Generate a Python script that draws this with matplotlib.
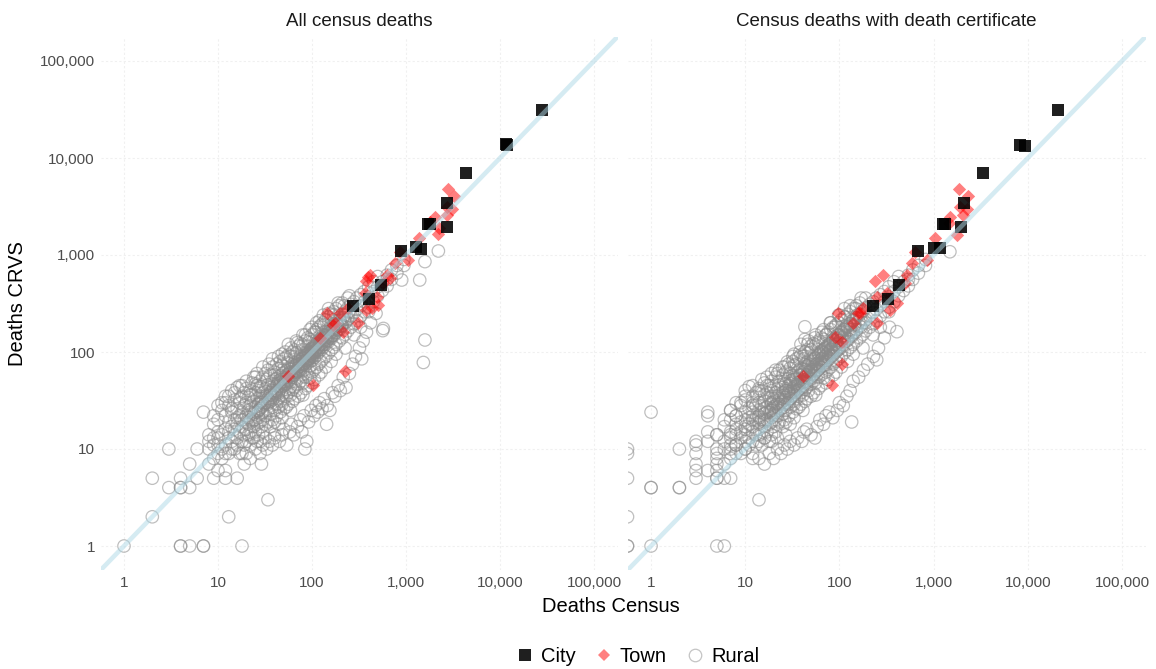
import numpy as np
import matplotlib
matplotlib.use("Agg")
import matplotlib.pyplot as plt
from matplotlib.lines import Line2D
from matplotlib.ticker import FixedLocator, FuncFormatter, NullLocator

plt.rcParams['font.family'] = ['Liberation Sans', 'DejaVu Sans']

# ---------------- data ----------------
panel_titles = ["All census deaths", "Census deaths with death certificate"]
tick_values = [1, 10, 100, 1000, 10000, 100000]
legend_labels = ["City", "Town", "Rural"]

# Cities (census, crvs)
city_all = [(27800, 31000), (11500, 14000), (12000, 13500), (4320, 7050), (2710, 3460),
            (1730, 2070), (1800, 2100), (2710, 1950), (877, 1107), (1290, 1218),
            (1440, 1150), (538, 490), (400, 356), (275, 300)]
city_cert = [(20800, 31000), (8260, 13600), (9340, 13300), (3320, 7050), (2100, 3460),
             (1270, 2070), (1330, 2100), (1950, 1950), (689, 1107), (1000, 1170),
             (1170, 1170), (433, 490), (331, 356), (229, 300)]

# Towns (census, crvs)
town_all = [(2780, 4760), (3240, 4060), (2710, 3100), (3080, 2960), (2030, 2480), (2710, 2580),
            (2260, 1880), (2210, 1650), (1800, 2200), (1380, 1490), (1060, 890), (863, 1080),
            (764, 820), (622, 620), (414, 620), (380, 543), (398, 597), (676, 575), (575, 510),
            (366, 403), (488, 371), (508, 305), (431, 282), (143, 251), (199, 251), (176, 198),
            (243, 282), (215, 162), (122, 138), (224, 63), (56, 56), (103, 46), (310, 198),
            (380, 270), (169, 190)]
town_cert = [(1875, 4760), (2340, 4060), (1910, 3100), (2240, 2960), (1490, 2480), (2070, 2580),
             (1760, 1600), (1470, 2120), (1035, 1490), (845, 890), (633, 1080), (585, 820),
             (239, 543), (292, 620), (518, 620), (497, 510), (249, 371), (405, 317), (97, 251),
             (159, 251), (141, 198), (180, 282), (318, 403), (90, 144), (106, 128), (106, 76),
             (41, 56), (83, 46), (249, 198), (166, 251), (344, 270)]

# Rural: isolated points (census, crvs)
rural_all_points = [(1, 1), (4, 1), (4, 1), (5, 1), (7, 1), (7, 1), (18, 1), (2, 2), (13, 2), (34, 3),
                    (3, 4), (4, 4), (4, 4), (5, 4), (2, 5), (4, 5), (6, 5), (9, 5), (12, 5), (16, 5),
                    (10, 6), (12, 6), (5, 7), (19, 7), (29, 7), (3, 10), (6, 10), (84, 10),
                    (7, 24), (12, 35), (16, 43), (25, 47), (143, 18), (230, 43), (1590, 133),
                    (1530, 78), (565, 166), (338, 85), (1400, 552), (1590, 855), (2210, 1100),
                    (900, 552), (575, 175)]
rural_cert_points = [(0, 1), (0, 1), (1, 1), (5, 1), (6, 1), (0, 2), (14, 3), (1, 4), (1, 4), (2, 4),
                     (2, 4), (0, 5), (3, 5), (5, 5), (5, 5), (6, 5), (7, 5), (3, 6), (4, 6), (3, 7),
                     (5, 7), (12, 8), (0, 10), (0, 9), (2, 10), (5, 9), (3, 9), (3, 11), (3, 12),
                     (4, 12), (4, 15), (5, 14), (8, 11), (8, 14), (8, 18), (1, 24), (4, 24), (4, 22),
                     (135, 19), (43, 182), (43, 135), (249, 83), (408, 162), (1490, 1080)]

# Rural: spread of the cloud away from the diagonal (census, crvs)
rural_all_spread = [
    (20, 9), (22, 8), (25, 10), (28, 9), (30, 11), (33, 10), (35, 12), (38, 11), (40, 13), (45, 12),
    (48, 14), (50, 16), (54, 11), (58, 15), (60, 18), (64, 14), (70, 17), (75, 20), (78, 15), (82, 22),
    (88, 12), (92, 19), (98, 25), (105, 22), (110, 28), (115, 24), (120, 30), (128, 26), (135, 33),
    (145, 28), (155, 25), (165, 38), (175, 35), (190, 45), (200, 40), (215, 55), (250, 60), (270, 75),
    (290, 90), (320, 110), (350, 130), (380, 160), (420, 200), (480, 250),
    (9, 22), (10, 28), (11, 30), (13, 35), (14, 26), (15, 38), (17, 33), (18, 45), (20, 50), (22, 36),
    (24, 55), (26, 60), (28, 44), (30, 70), (33, 52), (35, 75), (38, 85), (40, 58), (44, 90), (48, 65),
    (52, 100), (55, 78), (60, 110), (66, 90), (70, 125), (78, 105), (85, 150), (92, 125), (100, 180),
    (110, 160), (120, 210), (135, 190), (150, 250), (170, 240), (190, 320), (220, 300), (250, 380),
    (30, 30), (35, 32), (40, 38), (45, 45), (50, 48), (55, 55), (60, 57), (65, 63), (70, 68), (75, 72),
    (80, 80), (85, 82), (90, 88), (95, 92), (100, 100), (110, 105), (120, 118), (130, 125), (140, 140),
    (150, 145), (160, 160), (170, 165), (180, 178), (200, 195), (220, 215), (36, 36), (42, 40), (47, 49),
    (52, 50), (57, 60), (63, 61), (67, 70), (73, 75), (78, 77), (83, 86), (88, 90), (93, 97), (98, 96),
    (104, 108), (115, 112), (126, 130), (145, 150), (165, 170), (185, 190),
]
rural_cert_spread = [
    (14, 8), (16, 7), (18, 9), (20, 8), (22, 10), (24, 9), (26, 11), (28, 10), (30, 12), (33, 11),
    (36, 13), (40, 12), (42, 15), (45, 16), (50, 14), (55, 13), (58, 17), (62, 20), (68, 18), (72, 22),
    (78, 24), (85, 21), (95, 25), (100, 30), (110, 28), (120, 35), (130, 40), (140, 50), (160, 55),
    (180, 65), (200, 75), (230, 90), (260, 110), (300, 140), (340, 180),
    (6, 20), (7, 25), (8, 22), (9, 30), (10, 35), (11, 44), (12, 28), (14, 40), (15, 52), (17, 45),
    (19, 60), (21, 65), (23, 50), (25, 70), (28, 79), (30, 60), (32, 90), (35, 75), (38, 100), (42, 85),
    (46, 120), (50, 105), (55, 140), (60, 125), (65, 160), (72, 150), (80, 200), (90, 180), (100, 240),
    (115, 230), (130, 300), (150, 280), (170, 360),
    (20, 22), (24, 26), (28, 30), (32, 35), (36, 40), (40, 45), (45, 48), (50, 55), (55, 60), (60, 66),
    (66, 72), (72, 78), (78, 85), (85, 92), (92, 100), (100, 108), (110, 118), (120, 130), (135, 145),
    (150, 160), (170, 180), (190, 200), (22, 27), (26, 29), (30, 33), (34, 38), (38, 42), (43, 50),
    (48, 52), (53, 58), (58, 64), (63, 70), (70, 74), (75, 82), (82, 90), (88, 96), (96, 104),
    (105, 112), (125, 135), (140, 152),
]

# Rural: dense core of the cloud (census, crvs)
rural_all_core = [
    (27, 25), (31, 29), (33, 36), (37, 34), (39, 42), (41, 37), (43, 47), (47, 44), (49, 53), (51, 46),
    (54, 58), (57, 52), (61, 66), (63, 58), (67, 62), (69, 75), (71, 64), (74, 80), (77, 70), (79, 86),
    (83, 76), (87, 94), (89, 81), (91, 100), (94, 86), (97, 105), (101, 92), (103, 112), (108, 98),
    (113, 122), (117, 106), (121, 131), (124, 112), (129, 139), (134, 121), (138, 148), (143, 130),
    (148, 158), (155, 140), (158, 170), (163, 148), (168, 180), (176, 158), (183, 195), (188, 170),
    (196, 210), (205, 185), (212, 225), (230, 205), (245, 260),
    (29, 33), (34, 30), (38, 40), (44, 39), (46, 52), (52, 48), (58, 62), (61, 55), (66, 72), (73, 66),
    (75, 84), (81, 74), (86, 92), (93, 84), (99, 108), (102, 90), (109, 116), (116, 104), (123, 135),
    (131, 118), (137, 150), (146, 132), (152, 165), (162, 145), (172, 188), (185, 168), (198, 215),
    (208, 190), (220, 240), (240, 220),
]
rural_cert_core = [
    (19, 25), (22, 29), (23, 36), (26, 34), (27, 42), (29, 37), (30, 47), (33, 44), (34, 53), (36, 46),
    (38, 58), (40, 52), (43, 66), (44, 58), (47, 62), (48, 75), (50, 64), (52, 80), (54, 70), (55, 86),
    (58, 76), (61, 94), (62, 81), (64, 100), (66, 86), (68, 105), (71, 92), (72, 112), (76, 98),
    (79, 122), (82, 106), (85, 131), (87, 112), (90, 139), (94, 121), (97, 148), (100, 130),
    (104, 158), (109, 140), (111, 170), (114, 148), (118, 180), (123, 158), (128, 195), (132, 170),
    (137, 210), (144, 185), (148, 225), (161, 205), (172, 260),
    (20, 33), (24, 30), (27, 40), (31, 39), (32, 52), (36, 48), (41, 62), (43, 55), (46, 72), (51, 66),
    (53, 84), (57, 74), (60, 92), (65, 84), (69, 108), (71, 90), (76, 116), (81, 104), (86, 135),
    (92, 118), (96, 150), (102, 132), (106, 165), (113, 145), (120, 188), (130, 168), (139, 215),
    (146, 190), (154, 240), (168, 220),
]

# Rural: main cloud, rows of (census, [crvs ...])
rural_all_rows = [
    (8, [10, 12, 14, 7]), (9, [8, 13, 18, 11]), (10, [9, 11, 15, 20, 13]), (11, [10, 14, 25, 8]),
    (12, [11, 16, 22, 30, 9]), (13, [9, 13, 19, 28, 15]), (14, [12, 17, 24, 40, 10]),
    (15, [10, 14, 20, 32, 16]), (16, [13, 18, 26, 11, 21]), (17, [15, 22, 30, 45, 9]),
    (18, [12, 17, 24, 35, 9, 20]), (19, [14, 20, 28, 38, 11]), (20, [16, 22, 30, 12, 42, 19]),
    (21, [18, 25, 34, 14, 21]), (22, [15, 20, 28, 40, 11, 24]), (23, [19, 26, 36, 48, 13]),
    (24, [17, 23, 31, 13, 20]), (25, [20, 27, 38, 55, 15, 24]), (26, [18, 24, 33, 45, 12]),
    (27, [21, 29, 40, 14, 25]), (28, [19, 26, 35, 50, 12, 30]), (29, [23, 31, 44, 17, 27]),
    (30, [20, 28, 38, 55, 15, 24]), (32, [22, 30, 42, 60, 18, 13, 35]), (34, [25, 33, 46, 19, 65, 29]),
    (36, [23, 31, 43, 58, 17, 38]), (38, [27, 36, 50, 70, 20, 32]), (40, [25, 34, 47, 62, 19, 14, 40]),
    (42, [29, 39, 53, 75, 22, 45]), (44, [27, 37, 50, 68, 18, 33]), (46, [31, 42, 57, 80, 24, 48]),
    (48, [29, 40, 55, 73, 21, 95, 36]), (50, [33, 45, 61, 85, 26, 52]), (53, [35, 47, 64, 88, 27, 41]),
    (56, [38, 50, 68, 93, 29, 120, 58]), (59, [36, 49, 66, 90, 25, 44]), (62, [41, 55, 74, 100, 31, 63]),
    (65, [43, 58, 78, 105, 33, 50]), (68, [40, 54, 72, 98, 130, 62]), (72, [47, 63, 84, 115, 35, 70]),
    (76, [50, 66, 90, 122, 38, 58]), (80, [48, 64, 86, 118, 36, 150, 75]), (85, [55, 73, 97, 130, 42, 66]),
    (90, [58, 77, 103, 140, 45, 85]), (95, [54, 72, 98, 135, 170, 80]), (100, [62, 82, 110, 150, 48, 95]),
    (106, [66, 88, 118, 160, 52, 100]), (112, [70, 93, 125, 170, 200, 108]),
    (118, [75, 100, 133, 180, 58, 115]), (125, [80, 105, 140, 190, 62, 120]),
    (132, [85, 112, 150, 200, 240]), (140, [90, 120, 160, 215, 70, 135]), (150, [98, 128, 170, 230, 280]),
    (160, [105, 138, 182, 245, 80]), (170, [112, 148, 195, 260]), (180, [120, 158, 210, 280, 95]),
    (195, [130, 170, 225, 300]), (210, [140, 185, 245, 320]), (225, [152, 200, 265, 110]),
    (240, [165, 215, 285, 360]), (260, [180, 235, 310]), (280, [195, 255, 330, 150]),
    (300, [210, 275, 360]), (330, [235, 300, 390, 180]), (360, [260, 330, 420]),
    (400, [290, 370, 470, 260]), (450, [330, 420, 530]), (500, [380, 470, 600]), (560, [430, 530]),
    (630, [480, 620, 560]), (700, [560, 700]), (800, [650, 780]), (950, [780, 900]),
]
rural_cert_rows = [
    (5, [8, 10, 14, 6]), (6, [7, 12, 17, 10]), (7, [9, 11, 15, 20, 13]), (7, [10, 14, 25, 8]),
    (8, [11, 16, 22, 30, 9]), (9, [9, 13, 19, 28, 15]), (10, [12, 17, 24, 40, 10]),
    (10, [10, 14, 20, 32, 16]), (11, [13, 18, 26, 11, 21]), (12, [15, 22, 30, 45, 9]),
    (12, [12, 17, 24, 35, 20]), (13, [14, 20, 28, 38, 11]), (14, [16, 22, 30, 12, 42, 19]),
    (14, [18, 25, 34, 14, 21]), (15, [15, 20, 28, 40, 11, 24]), (16, [19, 26, 36, 48, 13]),
    (16, [17, 23, 31, 13, 20]), (17, [20, 27, 38, 55, 15, 24]), (18, [18, 24, 33, 45, 12]),
    (19, [21, 29, 40, 14, 25]), (19, [19, 26, 35, 50, 12, 30]), (20, [23, 31, 44, 17, 27]),
    (21, [20, 28, 38, 55, 15, 24]), (22, [22, 30, 42, 60, 18, 13, 35]), (23, [25, 33, 46, 19, 65, 29]),
    (25, [23, 31, 43, 58, 17, 38]), (26, [27, 36, 50, 70, 20, 32]), (27, [25, 34, 47, 62, 19, 14, 40]),
    (29, [29, 39, 53, 75, 22, 45]), (30, [27, 37, 50, 68, 18, 33]), (32, [31, 42, 57, 80, 24, 48]),
    (33, [29, 40, 55, 73, 21, 95, 36]), (35, [33, 45, 61, 85, 26, 52]), (37, [35, 47, 64, 88, 27, 41]),
    (39, [38, 50, 68, 93, 29, 120, 58]), (41, [36, 49, 66, 90, 25, 44]), (43, [41, 55, 74, 100, 31, 63]),
    (45, [43, 58, 78, 105, 33, 50]), (47, [40, 54, 72, 98, 130, 62]), (50, [47, 63, 84, 115, 35, 70]),
    (53, [50, 66, 90, 122, 38, 58]), (56, [48, 64, 86, 118, 36, 150, 75]), (60, [55, 73, 97, 130, 42, 66]),
    (64, [58, 77, 103, 140, 45, 85]), (68, [54, 72, 98, 135, 170, 80]), (72, [62, 82, 110, 150, 48, 95]),
    (76, [66, 88, 118, 160, 52, 100]), (81, [70, 93, 125, 170, 200, 108]),
    (86, [75, 100, 133, 180, 58, 115]), (92, [80, 105, 140, 190, 62, 120]),
    (98, [85, 112, 150, 200, 240]), (105, [90, 120, 160, 215, 70, 135]), (113, [98, 128, 170, 230, 280]),
    (122, [105, 138, 182, 245, 80]), (131, [112, 148, 195, 260]), (140, [120, 158, 210, 280, 95]),
    (152, [130, 170, 225, 300]), (165, [140, 185, 245, 320]), (178, [152, 200, 265, 110]),
    (190, [165, 215, 285, 360]), (210, [180, 235, 310]), (228, [195, 255, 330, 150]),
    (246, [210, 275, 360]), (272, [235, 300, 390, 180]), (300, [260, 330, 420]),
    (335, [290, 370, 470, 260]), (380, [330, 420, 530]), (425, [380, 470, 600]), (480, [430, 530]),
    (540, [480, 620, 560]), (600, [560, 700]), (690, [650, 780]), (820, [780, 900]),
]

# ---------------- styling ----------------
W, H = 1156, 669
fig = plt.figure(figsize=(W / 100, H / 100), dpi=100)
lo, hi = 10 ** -0.25, 10 ** 5.25

panel_px = [(100.5, 617.5), (627.5, 1145.5)]
top_px, bot_px = 36.75, 570.25

rural_color = '#8a8a8a'
town_color = '#ff0000'
city_color = '#000000'
line_color = '#add8e6'
grid_color = '#f0f0f0'


def expand(point_lists, rows):
    xs, ys = [], []
    for pts in point_lists:
        xs += [p[0] for p in pts]
        ys += [p[1] for p in pts]
    for x, yl in rows:
        for y in yl:
            xs.append(x)
            ys.append(y)
    return np.array(xs, float), np.array(ys, float)


datasets = [
    (expand([rural_all_points, rural_all_spread, rural_all_core], rural_all_rows), town_all, city_all),
    (expand([rural_cert_points, rural_cert_spread, rural_cert_core], rural_cert_rows), town_cert, city_cert),
]

for i, ((x0, x1), (rural, towns, cities)) in enumerate(zip(panel_px, datasets)):
    ax = fig.add_axes([x0 / W, 1 - bot_px / H, (x1 - x0) / W, (bot_px - top_px) / H])
    ax.set_xscale('log')
    ax.set_yscale('log')
    ax.set_xlim(lo, hi)
    ax.set_ylim(lo, hi)
    for s in ax.spines.values():
        s.set_visible(False)
    ax.xaxis.set_major_locator(FixedLocator(tick_values))
    ax.yaxis.set_major_locator(FixedLocator(tick_values))
    ax.xaxis.set_minor_locator(NullLocator())
    ax.yaxis.set_minor_locator(NullLocator())
    fmt = FuncFormatter(lambda v, p: f"{int(round(v)):,}")
    ax.xaxis.set_major_formatter(fmt)
    ax.yaxis.set_major_formatter(fmt)
    ax.tick_params(axis='both', length=0, labelsize=11, labelcolor='#4d4d4d', pad=4)
    if i == 1:
        ax.tick_params(axis='y', labelleft=False)
    ax.grid(True, which='major', color=grid_color, linewidth=0.8, linestyle=(0, (2, 2)))
    ax.set_axisbelow(True)

    rx, ry = rural
    rx_plot = np.where(rx > 0, rx, lo)  # log(0) -> panel edge
    ax.scatter(rx_plot, ry, s=80, facecolors='none', edgecolors=rural_color,
               linewidths=0.9, alpha=0.55, zorder=2)
    tx = [p[0] for p in towns]
    ty = [p[1] for p in towns]
    ax.scatter(tx, ty, s=46, marker='D', color=town_color, alpha=0.5, linewidths=0, zorder=3)
    cx = [p[0] for p in cities]
    cy = [p[1] for p in cities]
    ax.scatter(cx, cy, s=80, marker='s', color=city_color, alpha=0.88, linewidths=0, zorder=4)
    ax.axline((1, 1), (10, 10), color=line_color, alpha=0.5, linewidth=3.3, zorder=5,
              solid_capstyle='butt')
    ax.set_title(panel_titles[i], fontsize=13.5, color='#1a1a1a', pad=8)

fig.text(18 / W, 1 - 304 / H, "Deaths CRVS", rotation=90, ha='center', va='center',
         fontsize=14.5, color='#000000')
fig.text(611 / W, 1 - 606 / H, "Deaths Census", ha='center', va='center',
         fontsize=14.5, color='#000000')

handles = [
    Line2D([], [], marker='s', linestyle='none', color=city_color, alpha=0.88, markersize=9,
           markeredgewidth=0),
    Line2D([], [], marker='D', linestyle='none', color=town_color, alpha=0.5, markersize=6,
           markeredgewidth=0),
    Line2D([], [], marker='o', linestyle='none', markerfacecolor='none',
           markeredgecolor=rural_color, alpha=0.5, markersize=9, markeredgewidth=0.9),
]
fig.legend(handles, legend_labels, loc='center', bbox_to_anchor=(637 / W, 1 - 657 / H),
           ncol=3, frameon=False, fontsize=14.5, handletextpad=0.3, columnspacing=0.9,
           handlelength=1.0)

fig.savefig("out.png", dpi=100)
